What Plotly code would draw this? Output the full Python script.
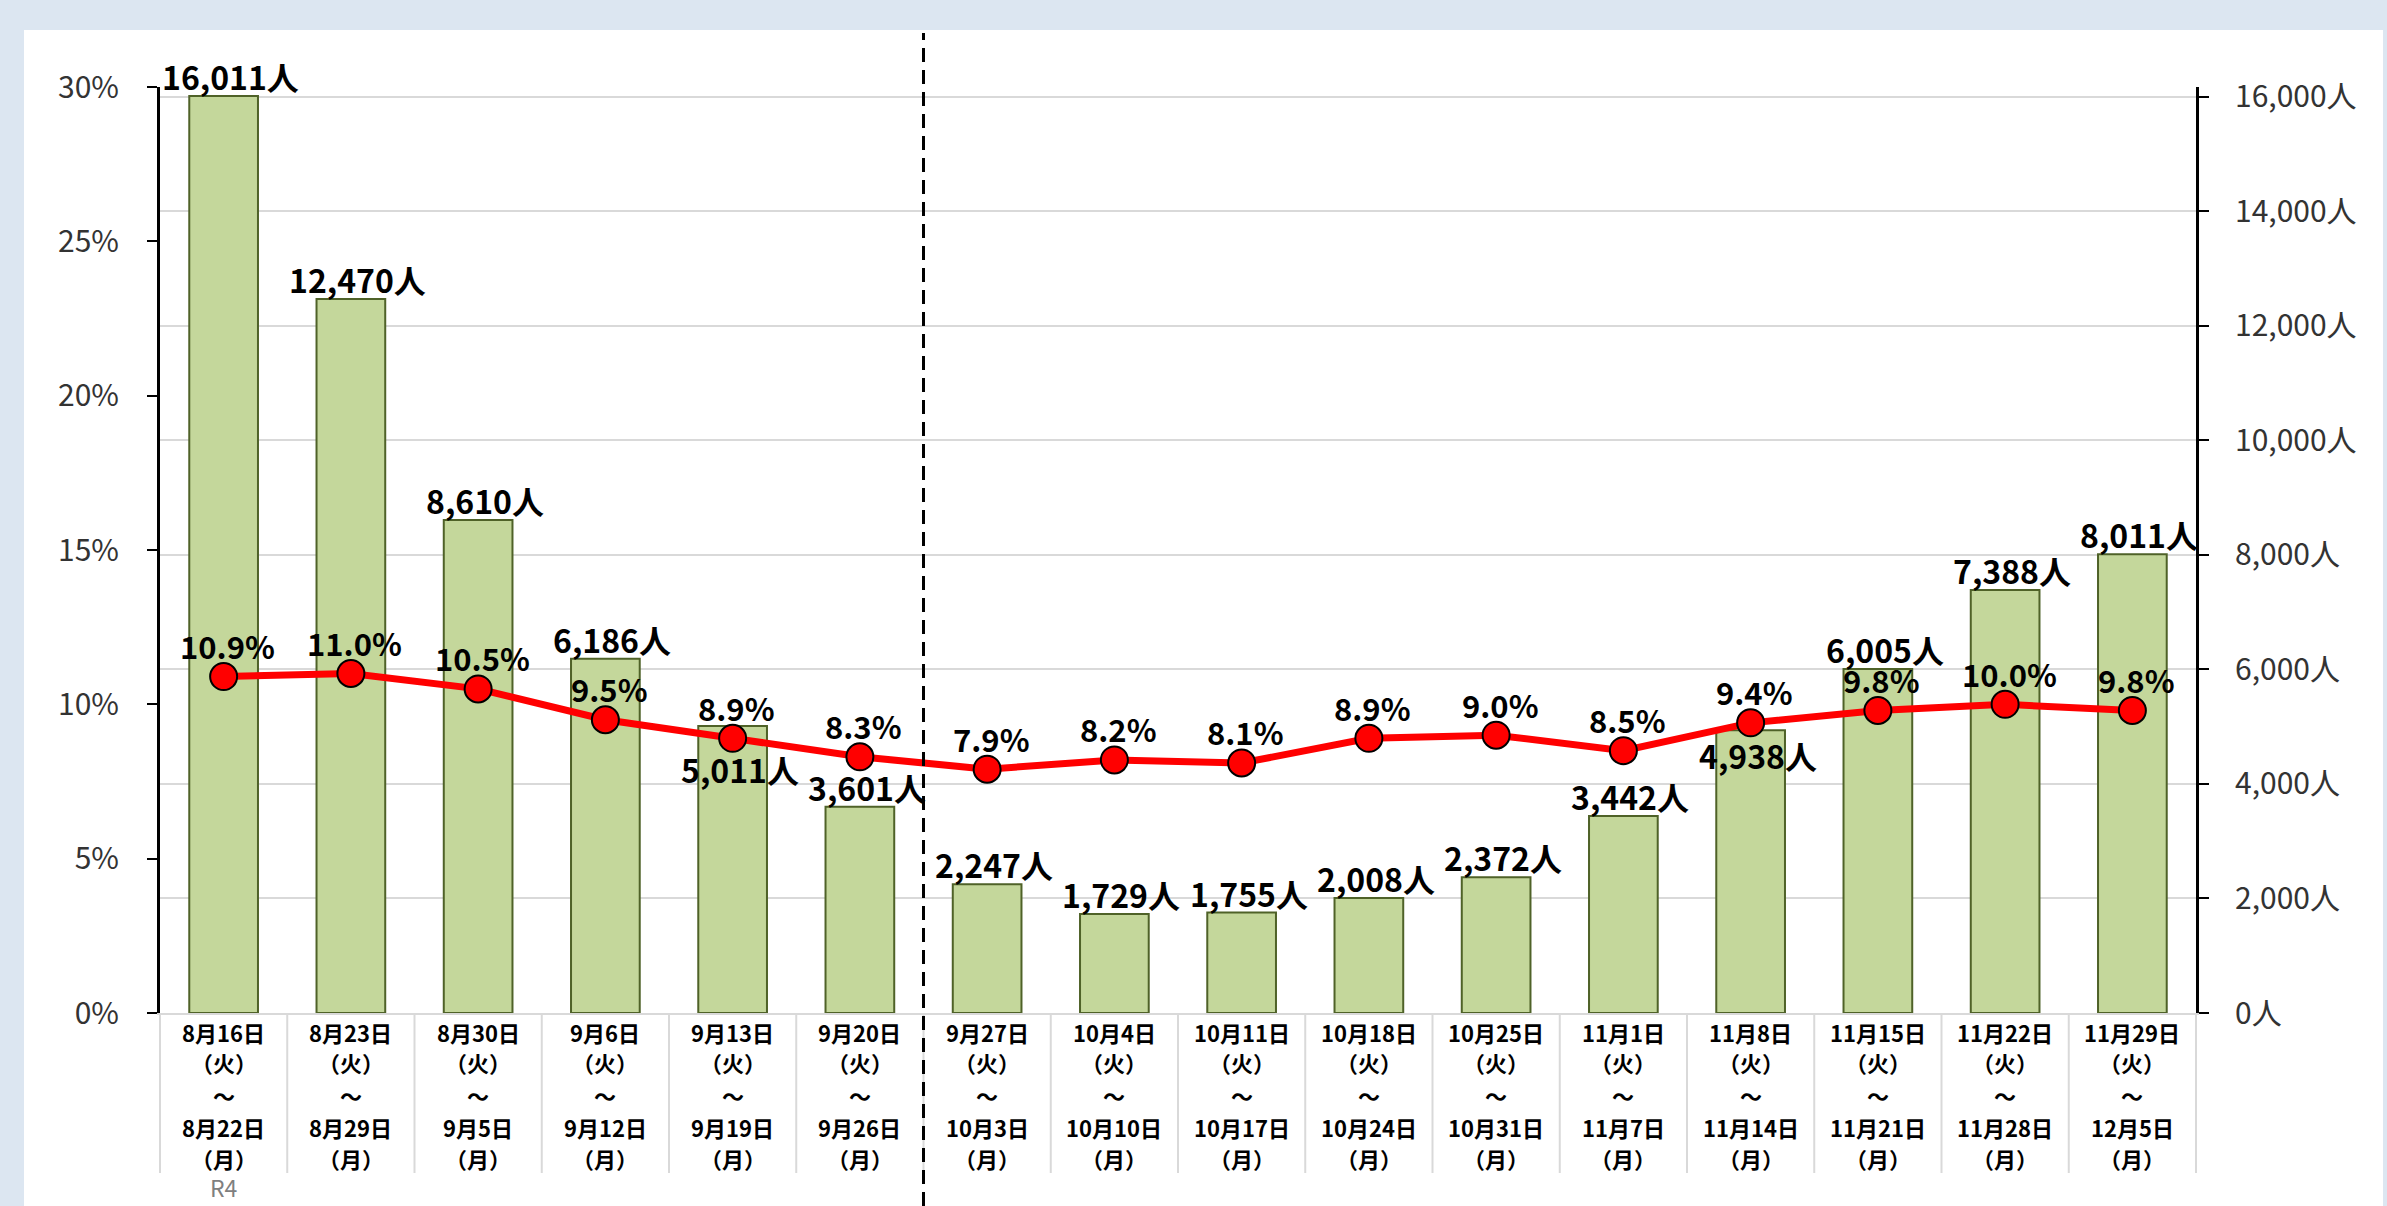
import plotly.graph_objects as go

# weekly data (R4)
start_dates = ['8月16日', '8月23日', '8月30日', '9月6日', '9月13日', '9月20日', '9月27日', '10月4日',
               '10月11日', '10月18日', '10月25日', '11月1日', '11月8日', '11月15日', '11月22日', '11月29日']
end_dates = ['8月22日', '8月29日', '9月5日', '9月12日', '9月19日', '9月26日', '10月3日', '10月10日',
             '10月17日', '10月24日', '10月31日', '11月7日', '11月14日', '11月21日', '11月28日', '12月5日']
patients = [16011, 12470, 8610, 6186, 5011, 3601, 2247, 1729, 1755, 2008, 2372, 3442, 4938, 6005, 7388, 8011]
rate = [10.9, 11.0, 10.5, 9.5, 8.9, 8.3, 7.9, 8.2, 8.1, 8.9, 9.0, 8.5, 9.4, 9.8, 10.0, 9.8]
count_ticks = [0, 2000, 4000, 6000, 8000, 10000, 12000, 14000, 16000]

# label nudges (px) for the bar labels that would hit the line
bar_label_dy = [20, 20, 20, 20, -43, 20, 20, 20, 20, 20, 20, 20, -25, 20, 20, 20]

W, H = 2387, 1206
ML, MR, MT, MB = 160, 191, 87, 193
PW, PH = W - ML - MR, H - MT - MB


def px_x(px):
    return (px - ML) / PW


def px_y(py):
    return (H - MB - py) / PH


n = len(patients)
idx = list(range(n))
JP = 'Noto Sans CJK JP'

fig = go.Figure()
fig.add_trace(go.Bar(x=idx, y=patients, width=0.54, yaxis='y',
                     marker=dict(color='#c4d79b', line=dict(color='#4f6228', width=2)),
                     showlegend=False))
fig.add_trace(go.Scatter(x=idx, y=rate, yaxis='y2', mode='lines+markers',
                         line=dict(color='#ff0000', width=7),
                         marker=dict(size=27, color='#ff0000', line=dict(color='black', width=2)),
                         showlegend=False))

ann = []
for i, v in enumerate(patients):
    ann.append(dict(x=i, y=v, xref='x', yref='y', text=f'<b>{v:,}人</b>', showarrow=False,
                    xshift=7, yshift=bar_label_dy[i], font=dict(family=JP, size=32, color='black')))
for i, r in enumerate(rate):
    ann.append(dict(x=i, y=r, xref='x', yref='y2', text=f'<b>{r:.1f}%</b>', showarrow=False,
                    xshift=4, yshift=31, font=dict(family=JP, size=31, color='black')))

# category labels under the axis, one row each
rows_y = [1032, 1062, 1095, 1127, 1158]
for i in idx:
    lines = [start_dates[i], '（火）', '～', end_dates[i], '（月）']
    for txt, ry in zip(lines, rows_y):
        ann.append(dict(x=i, y=0, xref='x', yref='paper', yanchor='middle', text=f'<b>{txt}</b>',
                        showarrow=False, yshift=-(ry - (H - MB)),
                        font=dict(family=JP, size=22, color='black')))
ann.append(dict(x=0, y=0, xref='x', yref='paper', yanchor='middle', text='R4', showarrow=False,
                yshift=-(1187 - (H - MB)), font=dict(family=JP, size=23, color='#7f7f7f')))

shapes = [dict(type='rect', xref='paper', yref='paper', x0=px_x(24), x1=px_x(2383),
               y0=px_y(H), y1=px_y(30), fillcolor='white', line=dict(width=0), layer='below')]
for b in range(n + 1):
    shapes.append(dict(type='line', xref='paper', yref='paper', x0=b / n, x1=b / n,
                       y0=0, y1=px_y(1173), line=dict(color='#d9d9d9', width=2)))
shapes.append(dict(type='line', xref='paper', yref='paper', x0=6 / n, x1=6 / n,
                   y0=px_y(H), y1=px_y(33), line=dict(color='black', width=3, dash='14px,8px'),
                   layer='above'))

tickfont = dict(family=JP, size=30, color='#333333')
fig.update_layout(
    width=W, height=H, autosize=False,
    margin=dict(l=ML, r=MR, t=MT, b=MB, pad=0),
    paper_bgcolor='#dce6f1', plot_bgcolor='white',
    xaxis=dict(range=[-0.5, n - 0.5], showticklabels=False, showgrid=False, zeroline=False,
               showline=True, linecolor='#d9d9d9', linewidth=2, ticks=''),
    yaxis=dict(side='right', range=[0, 16170], tickvals=count_ticks,
               ticktext=[f'{t:,}人' for t in count_ticks],
               showgrid=True, gridcolor='#d9d9d9', gridwidth=2,
               zeroline=False, showline=True, linecolor='black', linewidth=3,
               ticks='outside', ticklen=10, tickwidth=2, tickcolor='black',
               ticklabelstandoff=20, tickfont=tickfont),
    yaxis2=dict(overlaying='y', side='left', range=[0, 30], dtick=5, ticksuffix='%',
                showgrid=False, zeroline=False, showline=True, linecolor='black', linewidth=3,
                ticks='outside', ticklen=10, tickwidth=2, tickcolor='black',
                ticklabelstandoff=22, tickfont=tickfont),
    annotations=ann,
    shapes=shapes,
)

fig.write_html("out.html", config={'displayModeBar': False},
               post_script="document.body.style.margin='0';document.body.style.overflow='hidden';")
